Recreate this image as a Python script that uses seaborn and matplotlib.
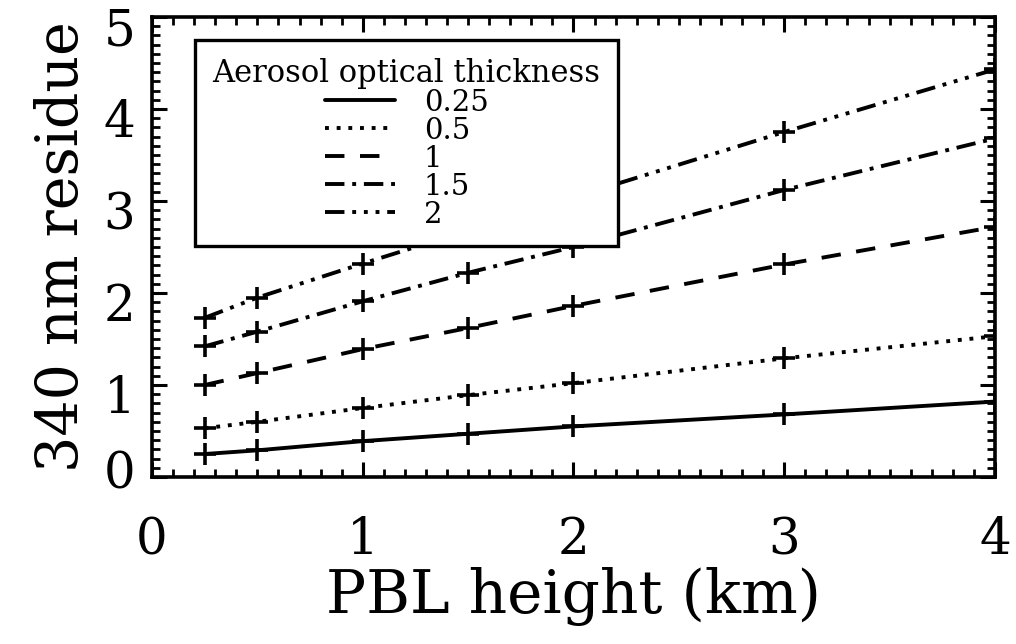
import pandas as pd
import matplotlib
matplotlib.use("Agg")
import matplotlib.pyplot as plt
import matplotlib.transforms as mtransforms
from matplotlib.lines import Line2D
from matplotlib.ticker import MultipleLocator
import seaborn as sns

# values
PBL_HEIGHT = [0.25, 0.5, 1.0, 1.5, 2.0, 3.0, 4.0]
AOT_LABELS = ["0.25", "0.5", "1", "1.5", "2"]
RES_AOT_025 = [0.25, 0.29, 0.39, 0.47, 0.55, 0.68, 0.82]
RES_AOT_05 = [0.53, 0.60, 0.75, 0.89, 1.02, 1.29, 1.53]
RES_AOT_1 = [1.00, 1.13, 1.39, 1.62, 1.86, 2.31, 2.72]
RES_AOT_15 = [1.42, 1.58, 1.91, 2.22, 2.50, 3.12, 3.68]
RES_AOT_2 = [1.73, 1.95, 2.32, 2.68, 3.04, 3.75, 4.43]

# IDL-ish line styles: solid, dotted, dashed, dash-dot, dash-dot-dot-dot
LINE_STYLES = [
    "-",
    (0, (1, 2)),
    (0, (5, 4)),
    (0, (5, 2, 1, 2)),
    (0, (5, 2, 1, 2, 1, 2, 1, 2)),
]

series = [RES_AOT_025, RES_AOT_05, RES_AOT_1, RES_AOT_15, RES_AOT_2]
df = pd.concat(
    [pd.DataFrame({"pbl": PBL_HEIGHT, "residue": vals, "aot": lab})
     for lab, vals in zip(AOT_LABELS, series)],
    ignore_index=True,
)

sns.set_theme(style="ticks")
plt.rcParams["font.family"] = ["DejaVu Serif"]
plt.rcParams["text.color"] = "black"
plt.rcParams["axes.labelcolor"] = "black"
plt.rcParams["xtick.color"] = "black"
plt.rcParams["ytick.color"] = "black"

fig = plt.figure(figsize=(10.16, 6.44), dpi=100)
ax = fig.add_axes([0.1496, 0.2593, 0.8297, 0.7143])

LW = 2.8
for lab, ls in zip(AOT_LABELS, LINE_STYLES):
    sub = df[df["aot"] == lab]
    sns.lineplot(data=sub, x="pbl", y="residue", ax=ax, color="black",
                 linestyle=ls, linewidth=LW, marker="+", markersize=16,
                 markeredgewidth=2.6, markeredgecolor="black")

ax.set_xlim(0, 4)
ax.set_ylim(0, 5)
ax.xaxis.set_major_locator(MultipleLocator(1))
ax.xaxis.set_minor_locator(MultipleLocator(0.1))
ax.yaxis.set_major_locator(MultipleLocator(1))
ax.yaxis.set_minor_locator(MultipleLocator(0.1))
ax.tick_params(which="both", direction="in", top=True, right=True,
               color="black", labelsize=36)
ax.tick_params(which="major", length=11, width=2.2)
ax.tick_params(which="minor", length=5.5, width=2.0)
ax.tick_params(axis="x", which="major", pad=28)
ax.tick_params(axis="y", which="major", pad=12)
for sp in ax.spines.values():
    sp.set_linewidth(2.6)
    sp.set_color("black")

# IDL puts the y labels a little below their ticks (the zero a little above)
fig.canvas.draw()
for val, lbl in zip(ax.get_yticks(), ax.get_yticklabels()):
    dy = 8 / 100 if val == 0 else -9 / 100
    lbl.set_transform(lbl.get_transform()
                      + mtransforms.ScaledTranslation(0, dy, fig.dpi_scale_trans))

ax.set_xlabel("PBL height (km)", fontsize=43, labelpad=1)
ax.set_ylabel("340 nm residue", fontsize=41, labelpad=10)

handles = [Line2D([], [], color="black", linestyle=ls, linewidth=LW)
           for ls in LINE_STYLES]
leg = ax.legend(handles, AOT_LABELS, title="Aerosol optical thickness",
                loc="upper left", bbox_to_anchor=(0.051, 0.95),
                borderaxespad=0, fontsize=21, title_fontsize=22,
                frameon=True, fancybox=False, handlelength=2.4,
                handletextpad=1.0, labelspacing=0.0, borderpad=0.6)
leg.get_title().set_color("black")
leg.get_frame().set_edgecolor("black")
leg.get_frame().set_linewidth(2.4)
leg.get_frame().set_facecolor("white")
leg.get_frame().set_alpha(1)
leg.set_zorder(5)

fig.savefig("out.png", dpi=100)
